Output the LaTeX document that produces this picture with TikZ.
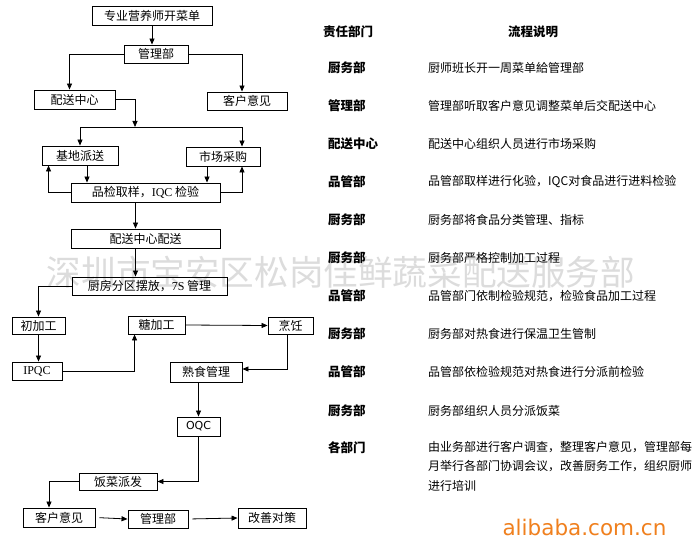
\documentclass[tikz,border=0pt]{standalone}
\usepackage{fontspec}
\setmainfont{Liberation Serif}
\setsansfont{DejaVu Sans}
\newfontfamily\cjk{Noto Sans CJK SC}
\usetikzlibrary{arrows.meta,calc}
\definecolor{wmgray}{RGB}{220,220,220}
\definecolor{aliorange}{RGB}{240,128,30}
\tikzset{
  flowbox/.style={draw, line width=0.9pt, font=\cjk\fontsize{12}{14}\selectfont,
                  inner sep=0pt, minimum width=#1, minimum height=19pt},
  flowarr/.style={line width=0.8pt, -{Triangle[length=6pt,width=5pt]}},
  dept/.style={anchor=west, inner sep=0pt, font=\cjk\bfseries\fontsize{12.5}{14}\selectfont},
  desc/.style={anchor=west, inner sep=0pt, font=\cjk\fontsize{12}{19.5}\selectfont, align=left},
}

\begin{document}
\begin{tikzpicture}[x=1pt, y=-1pt]
\useasboundingbox[fill=white] (0,0) rectangle (692,548);

% watermark
\node[font=\cjk\fontsize{34.6}{36}\selectfont, text=wmgray] (wm) at (341,272)
      {深圳市宝安区松岗佳鲜蔬菜配送服务部};

% flow chart
\node[flowbox=120pt] (menu) at (152,15.5) {专业营养师开菜单};
\node[flowbox=64pt, minimum height=18pt] (mgr) at (156,54) {管理部};
\node[flowbox=81pt] (dist) at (74.5,99.5) {配送中心};
\node[flowbox=80pt, minimum height=18pt] (fbA) at (247,101) {客户意见};
\node[flowbox=76pt] (base) at (80,155.5) {基地派送};
\node[flowbox=74pt] (mkt) at (223,156.5) {市场采购};
\node[flowbox=149pt] (iqc) at (145.5,192.5) {品检取样，{\rmfamily IQC} 检验};
\node[flowbox=149pt] (dcd) at (145.5,238.5) {配送中心配送};
\node[flowbox=155pt, minimum height=18pt] (kit) at (149.5,286) {厨房分区摆放，{\rmfamily 7S} 管理};
\node[flowbox=53pt, minimum height=17pt] (pre) at (38.5,325.5) {初加工};
\node[flowbox=57pt, minimum height=18pt] (fine) at (156.5,325) {糖加工};
\node[flowbox=45pt, minimum height=17pt] (cook) at (290.5,325.5) {烹饪};
\node[flowbox=50pt, minimum height=18pt] (ipqc) at (37,371) {\rmfamily IPQC};
\node[flowbox=72pt, minimum height=20pt] (cooked) at (206,372) {熟食管理};
\node[flowbox=43pt] (oqc) at (198.5,426.5) {\sffamily\fontsize{11}{13}\selectfont OQC};
\node[flowbox=78pt, minimum height=17pt] (serve) at (118,481.5) {饭菜派发};
\node[flowbox=72pt] (fbB) at (59,517.5) {客户意见};
\node[flowbox=60pt, minimum height=18pt] (mgrB) at (158,519) {管理部};
\node[flowbox=68pt, minimum height=20pt] (fix) at (272,518) {改善对策};

% connectors
\draw[flowarr] (menu.south) -- (menu.south |- mgr.north);
\draw[flowarr] (mgr.west) -| ([xshift=-5pt]dist.north);
\draw[flowarr] (mgr.east) -| ([xshift=-5pt]fbA.north);
\coordinate (split) at (135,127);
\draw[flowarr] (dist.east) -| (split);
\draw[flowarr] (split) -| (base.north);
\draw[flowarr] (split) -| ([xshift=19pt]mkt.north);
\coordinate (bdown) at ([xshift=7pt]base.south);
\draw[flowarr] (bdown) -- (bdown |- iqc.north);
\draw[flowarr] (iqc.west) -| ([xshift=7pt]base.south west);
\coordinate (mdown) at ([xshift=-16pt]mkt.south);
\draw[flowarr] (mdown) -- (mdown |- iqc.north);
\draw[flowarr] (iqc.east) -| ([xshift=19pt]mkt.south);
\coordinate (qdown) at ([xshift=-10pt]iqc.south);
\draw[flowarr] (qdown) -- (qdown |- dcd.north);
\coordinate (ddown) at ([xshift=-10pt]dcd.south);
\draw[flowarr] (ddown) -- (ddown |- kit.north);
\draw[flowarr] (kit.west) -| (pre.north);
\draw[flowarr] (pre.south) -- (pre.south |- ipqc.north);
\draw[flowarr] (ipqc.east) -| ([xshift=7pt]fine.south west);
\draw[flowarr] (fine.east) -- (cook.west);
\draw[flowarr] ([xshift=-3pt]cook.south) |- ([yshift=3pt]cooked.east);
\coordinate (cdown) at (oqc.north |- cooked.south);
\draw[flowarr] (cdown) -- (oqc.north);
\draw[flowarr] (oqc.south) |- (serve.east);
\draw[flowarr] (serve.west) -| ([xshift=-10pt]fbB.north);
\draw[flowarr, shorten <=4pt] (fbB.east) -- (mgrB.west);
\draw[flowarr, shorten <=4pt] (mgrB.east) -- (fix.west);

% table header
\node[dept, anchor=center] (hd) at (348,32) {责任部门};
\node[dept, anchor=center] (hp) at (533,32) {流程说明};

% table rows
\node[dept] (d1) at (328,68) {厨务部};
\node[desc] (t1) at (428,68) {厨师班长开一周菜单給管理部};
\node[dept] (d2) at (328,106) {管理部};
\node[desc] (t2) at (428,106) {管理部听取客户意见调整菜单后交配送中心};
\node[dept] (d3) at (328,144) {配送中心};
\node[desc] (t3) at (428,144) {配送中心组织人员进行市场采购};
\node[dept] (d4) at (328,182) {品管部};
\node[desc] (t4) at (428,182) {品管部取样进行化验，IQC对食品进行进料检验};
\node[dept] (d5) at (328,220) {厨务部};
\node[desc] (t5) at (428,220) {厨务部将食品分类管理、指标};
\node[dept] (d6) at (328,258) {厨务部};
\node[desc] (t6) at (428,258) {厨务部严格控制加工过程};
\node[dept] (d7) at (328,296) {品管部};
\node[desc] (t7) at (428,296) {品管部门依制检验规范，检验食品加工过程};
\node[dept] (d8) at (328,334) {厨务部};
\node[desc] (t8) at (428,334) {厨务部对热食进行保温卫生管制};
\node[dept] (d9) at (328,372) {品管部};
\node[desc] (t9) at (428,372) {品管部依检验规范对热食进行分派前检验};
\node[dept] (d10) at (328,411) {厨务部};
\node[desc] (t10) at (428,411) {厨务部组织人员分派饭菜};
\node[dept] (d11) at (328,448) {各部门};
\node[desc, anchor=north west] (t11) at (428,441)
      {由业务部进行客户调查，整理客户意见，管理部每\\
       月举行各部门协调会议，改善厨务工作，组织厨师\\
       进行培训};

% site mark
\node[font=\sffamily\fontsize{21.5}{23}\selectfont, text=aliorange, anchor=west] (ali) at (499,527)
      {alibaba.com.cn};
\end{tikzpicture}
\end{document}
